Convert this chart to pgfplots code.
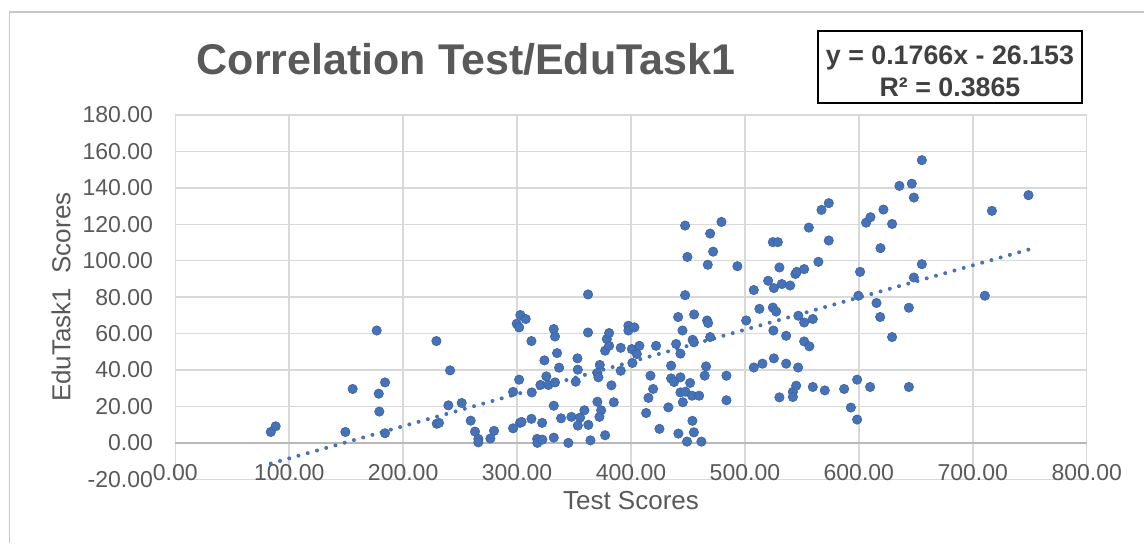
\documentclass[border=0pt]{standalone}
\usepackage{pgfplots}
\pgfplotsset{compat=1.18}
\usepackage{pgfplotstable}
\usepackage{fontspec}
\setmainfont{Liberation Sans}
\definecolor{txt}{HTML}{595959}
\definecolor{eqc}{HTML}{404040}
\definecolor{grd}{HTML}{D9D9D9}
\definecolor{ptc}{HTML}{4673B8}
\definecolor{ptb}{HTML}{3C62A0}
\pgfplotstableread{
x y
83.8 6.0
88.1 9.1
149.3 6.0
155.7 29.6
176.8 61.7
178.6 27.0
179.1 17.2
184.1 33.2
184.1 5.3
229.2 55.9
229.5 10.5
231.5 11.0
239.7 20.6
241.2 39.8
251.4 21.9
259.3 12.2
263.1 6.2
266.0 2.2
266.0 0.3
276.6 2.4
279.8 6.6
296.5 8.0
296.5 28.0
299.7 65.4
301.8 63.4
302.9 70.2
307.6 68.0
301.8 34.7
302.6 11.0
304.0 11.5
312.6 55.9
312.9 27.7
312.6 13.2
317.6 2.2
317.8 0.0
322.2 1.8
322.0 11.0
320.5 31.8
324.0 45.3
325.7 36.5
327.5 31.8
332.2 62.5
333.3 58.4
335.1 49.3
336.9 41.3
333.3 33.2
332.2 20.4
332.2 2.9
338.6 13.5
345.0 0.0
347.7 14.3
353.0 46.4
353.3 40.2
351.5 33.6
355.3 13.9
353.3 9.5
359.1 17.9
362.3 81.5
362.3 60.6
362.6 9.9
364.4 1.4
372.6 42.8
370.5 38.4
371.4 36.0
370.5 22.6
373.8 17.9
372.3 14.3
377.3 4.2
377.3 50.6
378.8 57.0
380.8 60.3
380.8 53.3
382.8 31.6
384.9 22.3
391.0 52.2
391.0 39.6
397.7 64.3
397.7 61.7
403.0 63.4
400.7 51.5
401.2 43.9
405.1 48.8
407.4 53.3
413.3 16.4
415.3 24.7
417.1 36.9
419.4 29.6
422.0 53.3
425.0 7.7
432.8 19.5
435.2 42.4
435.2 35.4
437.8 33.4
439.6 54.3
441.4 69.1
443.4 49.0
445.2 61.7
441.6 5.1
443.4 36.0
443.4 27.7
445.5 22.3
447.8 28.1
447.5 119.3
447.5 81.1
449.5 102.1
449.2 0.7
451.9 32.9
454.1 56.6
455.2 55.2
455.4 70.5
453.6 25.9
453.9 12.1
455.2 5.8
459.8 25.9
461.8 0.7
464.7 36.9
465.9 42.0
466.8 67.2
467.7 65.8
467.4 97.8
469.5 114.9
472.1 105.0
479.4 121.3
469.5 58.1
483.8 36.9
483.8 23.4
493.4 97.0
501.1 67.2
507.8 41.4
507.8 83.9
512.7 73.6
515.4 43.5
520.4 89.0
525.4 85.0
524.5 110.2
528.9 110.2
530.3 96.3
532.4 87.2
539.7 86.4
544.3 92.7
545.6 93.9
552.0 95.4
524.5 74.3
527.4 72.1
525.0 61.7
525.4 46.4
530.3 25.0
536.2 58.8
536.2 43.5
542.1 28.0
542.1 25.2
545.0 31.4
546.7 41.4
546.9 69.8
552.0 66.1
559.6 68.0
552.0 55.7
556.6 53.0
556.1 118.2
564.5 99.4
567.2 127.9
573.6 131.6
573.6 111.1
559.6 30.7
570.1 28.8
587.1 29.6
593.0 19.4
598.5 12.8
598.5 34.7
599.6 80.8
601.1 93.9
609.9 30.7
606.4 120.9
610.2 123.9
615.5 76.8
618.7 69.1
619.0 106.9
621.6 128.1
629.2 120.2
629.2 58.1
635.6 141.1
643.9 74.2
643.9 30.7
646.5 142.3
648.3 134.7
648.3 90.8
655.3 155.2
655.3 98.1
710.6 80.8
716.8 127.4
748.9 136.0
}\scores
\begin{document}
\begin{tikzpicture}
\path[use as bounding box] (0,0) rectangle (572pt,-271.5pt);
\draw[color=black!22, line width=0.6pt] (4.8pt,-271.5pt) -- (4.8pt,-6pt) -- (572pt,-6pt);
\begin{axis}[
  at={(87.65pt,-239.65pt)}, anchor=south west,
  width=455.7pt, height=182.15pt, scale only axis,
  xmin=0, xmax=800, ymin=-20, ymax=180,
  xtick={0,100,200,300,400,500,600,700,800},
  xticklabels={0.00,100.00,200.00,300.00,400.00,500.00,600.00,700.00,800.00},
  ytick={-20,0,20,40,60,80,100,120,140,160,180},
  yticklabels={-20.00,0.00,20.00,40.00,60.00,80.00,100.00,120.00,140.00,160.00,180.00},
  extra y ticks={0}, extra y tick labels={},
  extra y tick style={grid style={color=black!28, line width=0.75pt}},
  major tick length=0pt,
  grid=major,
  grid style={color=grd, line width=0.75pt},
  axis line style={color=grd, line width=0.75pt},
  tick label style={font=\fontsize{11.5}{13}\selectfont, text=txt},
  xticklabel style={anchor=center, inner sep=0pt, yshift=3.4pt},
  yticklabel style={anchor=east, inner sep=0pt, xshift=-11pt},
  label style={font=\fontsize{13}{15}\selectfont, text=txt},
  xlabel={Test Scores},
  ylabel={EduTask1\ \ Scores},
  xlabel style={at={(axis description cs:0.5,-0.0596)}, anchor=center},
  ylabel style={at={(axis description cs:-0.1254,0.5)}, anchor=center},
  clip=false,
]
\addplot[only marks, mark=*, mark size=2.35pt,
  mark options={fill=ptc, draw=ptb, line width=0.3pt}] table[x=x,y=y] {\scores};
\addplot[ptc, line width=2pt, line cap=round, dash pattern=on 0pt off 4.8pt]
  coordinates {(83.8,-11.35) (748.9,106.10)};
\end{axis}
\node[anchor=base, font=\fontsize{21.5}{25}\selectfont\bfseries, text=txt]
  at (233pt,-37pt) {Correlation Test/EduTask1};
\draw[black, line width=1pt] (409pt,-15.5pt) rectangle (541pt,-51.5pt);
\node[anchor=base, font=\fontsize{13.4}{16}\selectfont\bfseries, text=eqc]
  at (475pt,-32.25pt) {y = 0.1766x - 26.153};
\node[anchor=base, font=\fontsize{13.4}{16}\selectfont\bfseries, text=eqc]
  at (475pt,-48pt) {R² = 0.3865};
\end{tikzpicture}
\end{document}
